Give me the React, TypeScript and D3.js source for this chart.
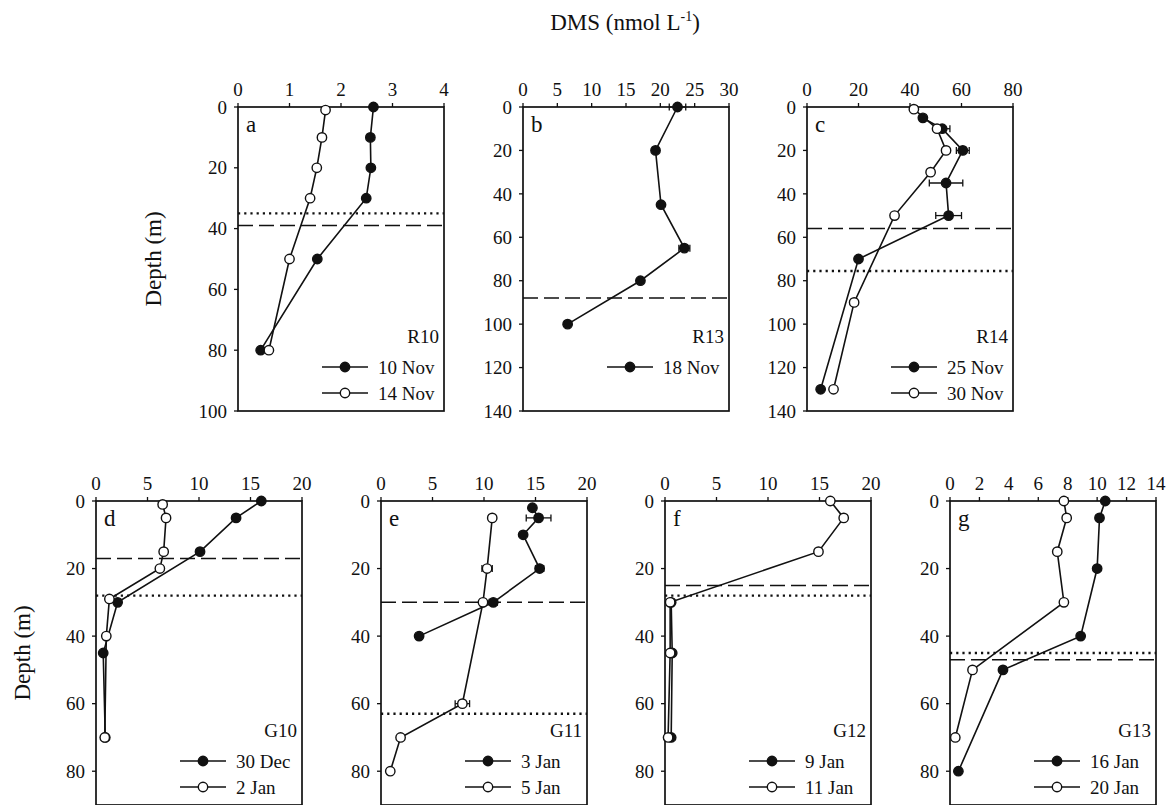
import React from 'react';
import { scaleLinear, line } from 'd3';

// DMS profiles: depth (m) and concentration (nmol L-1), err = horizontal error bar half width
const r10Depth10Nov = [0, 10, 20, 30, 50, 80];
const r10Dms10Nov = [2.63, 2.57, 2.58, 2.49, 1.54, 0.44];
const r10Depth14Nov = [1, 10, 20, 30, 50, 80];
const r10Dms14Nov = [1.7, 1.63, 1.53, 1.4, 1.0, 0.6];

const r13Depth18Nov = [0, 20, 45, 65, 80, 100];
const r13Dms18Nov = [22.5, 19.3, 20.1, 23.5, 17.1, 6.5];
const r13Err18Nov = [1.2, 0, 0, 0.8, 0, 0];

const r14Depth25Nov = [5, 10, 20, 35, 50, 70, 130];
const r14Dms25Nov = [45, 52.5, 60.5, 54, 55, 20, 5.3];
const r14Err25Nov = [0, 3, 2.5, 6.5, 5, 0, 0];
const r14Depth30Nov = [1, 10, 20, 30, 50, 90, 130];
const r14Dms30Nov = [41.5, 50.5, 54, 48, 34, 18.3, 10.3];

const g10Depth30Dec = [0, 5, 15, 30, 45, 70];
const g10Dms30Dec = [16.05, 13.6, 10.1, 2.1, 0.7, 0.9];
const g10Depth2Jan = [1, 5, 15, 20, 29, 40, 70];
const g10Dms2Jan = [6.47, 6.8, 6.57, 6.2, 1.3, 1.0, 0.85];

const g11Depth3Jan = [2, 5, 10, 20, 30, 40];
const g11Dms3Jan = [14.7, 15.3, 13.8, 15.4, 10.9, 3.7];
const g11Err3Jan = [0, 1.2, 0, 0.4, 0.4, 0];
const g11Depth5Jan = [5, 20, 30, 60, 70, 80];
const g11Dms5Jan = [10.8, 10.3, 9.9, 7.9, 1.9, 0.9];
const g11Err5Jan = [0, 0.5, 0, 0.7, 0, 0];

const g12Depth9Jan = [30, 45, 70];
const g12Dms9Jan = [0.6, 0.7, 0.6];
const g12Depth11Jan = [0, 5, 15, 30, 45, 70];
const g12Dms11Jan = [16.05, 17.35, 14.9, 0.5, 0.5, 0.3];

const g13Depth16Jan = [0, 5, 20, 40, 50, 80];
const g13Dms16Jan = [10.55, 10.16, 10.0, 8.88, 3.6, 0.57];
const g13Depth20Jan = [0, 5, 15, 30, 50, 70];
const g13Dms20Jan = [7.74, 7.93, 7.29, 7.74, 1.53, 0.36];

// mixed layer / reference depths (m)
const dashedDepths = [39, 88, 56, 17, 30, 25, 47];
const dottedDepths = [35, null, 75.5, 28, 63, 28, 45];

const topDepthTicks = [0, 20, 40, 60, 80, 100, 120, 140];
const bottomDepthTicks = [0, 20, 40, 60, 80];

type Series = { label: string; filled: boolean; depth: number[]; dms: number[]; err?: number[] };

const mk = (label: string, filled: boolean, depth: number[], dms: number[], err?: number[]): Series =>
  ({ label, filled, depth, dms, err });

const W = 206;
const H = 304;
const FONT = 'Liberation Serif, Times New Roman, serif';
const INK = '#111';

const panels = [
  { x: 238, y: 107, letter: 'a', station: 'R10', xMax: 4, xTicks: [0, 1, 2, 3, 4], yMax: 100,
    series: [mk('10 Nov', true, r10Depth10Nov, r10Dms10Nov), mk('14 Nov', false, r10Depth14Nov, r10Dms14Nov)] },
  { x: 523, y: 107, letter: 'b', station: 'R13', xMax: 30, xTicks: [0, 5, 10, 15, 20, 25, 30], yMax: 140,
    series: [mk('18 Nov', true, r13Depth18Nov, r13Dms18Nov, r13Err18Nov)] },
  { x: 807, y: 107, letter: 'c', station: 'R14', xMax: 80, xTicks: [0, 20, 40, 60, 80], yMax: 140,
    series: [mk('25 Nov', true, r14Depth25Nov, r14Dms25Nov, r14Err25Nov), mk('30 Nov', false, r14Depth30Nov, r14Dms30Nov)] },
  { x: 96, y: 501, letter: 'd', station: 'G10', xMax: 20, xTicks: [0, 5, 10, 15, 20], yMax: 90,
    series: [mk('30 Dec', true, g10Depth30Dec, g10Dms30Dec), mk('2 Jan', false, g10Depth2Jan, g10Dms2Jan)] },
  { x: 381, y: 501, letter: 'e', station: 'G11', xMax: 20, xTicks: [0, 5, 10, 15, 20], yMax: 90,
    series: [mk('3 Jan', true, g11Depth3Jan, g11Dms3Jan, g11Err3Jan), mk('5 Jan', false, g11Depth5Jan, g11Dms5Jan, g11Err5Jan)] },
  { x: 665, y: 501, letter: 'f', station: 'G12', xMax: 20, xTicks: [0, 5, 10, 15, 20], yMax: 90,
    series: [mk('9 Jan', true, g12Depth9Jan, g12Dms9Jan), mk('11 Jan', false, g12Depth11Jan, g12Dms11Jan)] },
  { x: 950, y: 501, letter: 'g', station: 'G13', xMax: 14, xTicks: [0, 2, 4, 6, 8, 10, 12, 14], yMax: 90,
    series: [mk('16 Jan', true, g13Depth16Jan, g13Dms16Jan), mk('20 Jan', false, g13Depth20Jan, g13Dms20Jan)] },
];

const Panel = ({ p, i }: { p: typeof panels[number]; i: number }) => {
  const x = scaleLinear().domain([0, p.xMax]).range([0, W]);
  const y = scaleLinear().domain([0, p.yMax]).range([0, H]);
  const yTicks = (p.yMax > 90 ? topDepthTicks : bottomDepthTicks).filter(t => t <= p.yMax);
  const dashed = dashedDepths[i];
  const dotted = dottedDepths[i];

  return (
    <g transform={`translate(${p.x},${p.y})`}>
      {dashed != null && (
        <line x1={0} x2={W} y1={y(dashed)} y2={y(dashed)} stroke={INK} strokeWidth={1.5} strokeDasharray="15,6" />
      )}
      {dotted != null && (
        <line x1={0} x2={W} y1={y(dotted)} y2={y(dotted)} stroke={INK} strokeWidth={2.4} strokeDasharray="2.2,4" />
      )}
      <rect x={0} y={0} width={W} height={H} fill="none" stroke={INK} strokeWidth={1.7} />
      {p.xTicks.map(t => (
        <g key={'x' + t}>
          <line x1={x(t)} x2={x(t)} y1={0} y2={-4} stroke={INK} strokeWidth={1.3} />
          <text x={x(t)} y={-11} textAnchor="middle" fontSize={19} fontFamily={FONT} fill={INK}>{t}</text>
        </g>
      ))}
      {yTicks.map(t => (
        <g key={'y' + t}>
          <line x1={0} x2={-4} y1={y(t)} y2={y(t)} stroke={INK} strokeWidth={1.3} />
          <text x={-11} y={y(t)} dy="0.35em" textAnchor="end" fontSize={19} fontFamily={FONT} fill={INK}>{t}</text>
        </g>
      ))}
      <text x={8} y={25} fontSize={23} fontFamily={FONT} fill={INK}>{p.letter}</text>
      {p.series.map((s, si) => {
        const pts: [number, number][] = s.dms.map((v, k) => [x(v), y(s.depth[k])]);
        const d = line()(pts) || '';
        return (
          <g key={si}>
            <path d={d} fill="none" stroke={INK} strokeWidth={1.6} />
            {s.err && s.err.map((e, k) => e > 0 ? (
              <g key={'e' + k} stroke={INK} strokeWidth={1.3}>
                <line x1={x(s.dms[k] - e)} x2={x(s.dms[k] + e)} y1={y(s.depth[k])} y2={y(s.depth[k])} />
                <line x1={x(s.dms[k] - e)} x2={x(s.dms[k] - e)} y1={y(s.depth[k]) - 3.5} y2={y(s.depth[k]) + 3.5} />
                <line x1={x(s.dms[k] + e)} x2={x(s.dms[k] + e)} y1={y(s.depth[k]) - 3.5} y2={y(s.depth[k]) + 3.5} />
              </g>
            ) : null)}
            {pts.map((q, k) => (
              <circle key={k} cx={q[0]} cy={q[1]} r={4.7} fill={s.filled ? INK : '#fff'} stroke={INK} strokeWidth={1.4} />
            ))}
          </g>
        );
      })}
      <text x={W - 5} y={H - 68} textAnchor="end" fontSize={19} fontFamily={FONT} fill={INK}>{p.station}</text>
      {p.series.map((s, si) => {
        const ly = H - 44 + si * 26;
        return (
          <g key={'l' + si}>
            <line x1={W - 122} x2={W - 76} y1={ly} y2={ly} stroke={INK} strokeWidth={1.6} />
            <circle cx={W - 99} cy={ly} r={4.7} fill={s.filled ? INK : '#fff'} stroke={INK} strokeWidth={1.4} />
            <text x={W - 66} y={ly} dy="0.35em" fontSize={19} fontFamily={FONT} fill={INK}>{s.label}</text>
          </g>
        );
      })}
    </g>
  );
};

export default function App() {
  return (
    <svg width={1169} height={805} style={{ position: 'absolute', left: 0, top: 0, background: '#fff' }}>
      <rect width={1169} height={805} fill="#fff" />
      <text x={625} y={30} textAnchor="middle" fontSize={23} fontFamily={FONT} fill={INK}>
        DMS (nmol L<tspan dy={-9} fontSize={14}>-1</tspan><tspan dy={9}>)</tspan>
      </text>
      <text transform="translate(161,259) rotate(-90)" textAnchor="middle" fontSize={23} fontFamily={FONT} fill={INK}>Depth (m)</text>
      <text transform="translate(30,653) rotate(-90)" textAnchor="middle" fontSize={23} fontFamily={FONT} fill={INK}>Depth (m)</text>
      {panels.map((p, i) => <Panel key={i} p={p} i={i} />)}
    </svg>
  );
}
